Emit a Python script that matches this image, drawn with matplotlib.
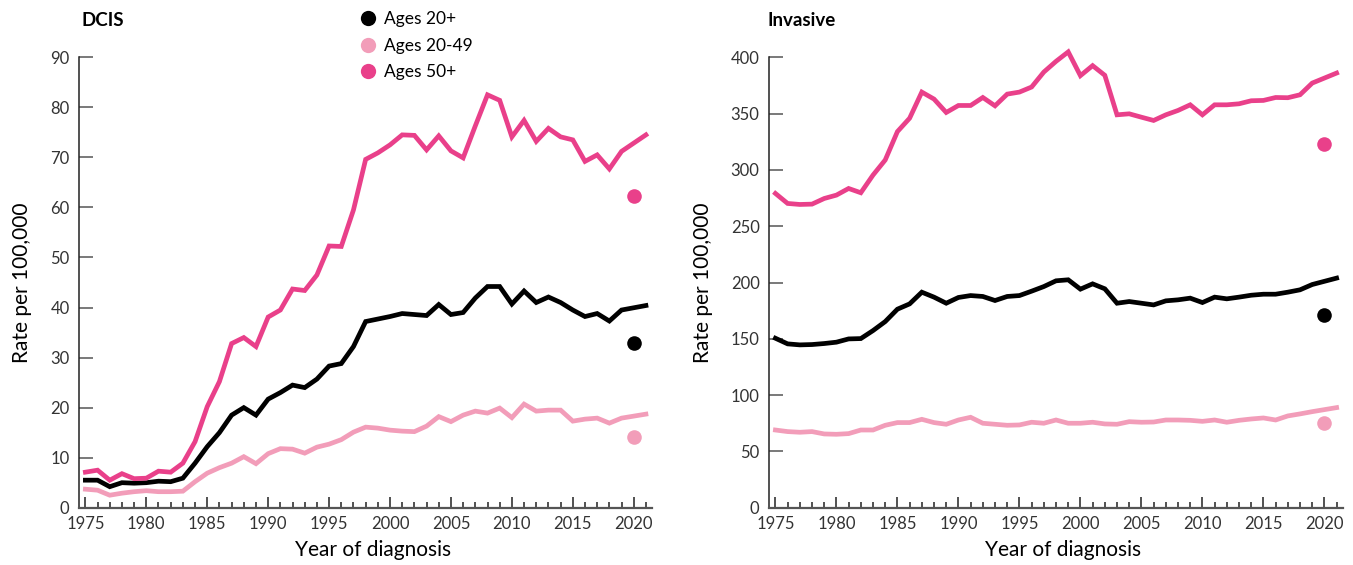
#import libraries
import numpy as np
from matplotlib import pyplot as plt
from matplotlib.lines import Line2D
from matplotlib.ticker import MultipleLocator

plt.rcParams['font.family'] = ['Lato', 'DejaVu Sans']

#data, 1975-2021 (2020 shown as a separate dot)
years = np.arange(1975, 2022)

dcis_20plus = [5.5, 5.5, 4.2, 5.0, 4.9, 5.0, 5.3, 5.2, 5.9, 8.9,
               12.2, 15.0, 18.5, 20.0, 18.5, 21.7, 23.0, 24.5, 24.0, 25.7,
               28.3, 28.8, 32.2, 37.2, 37.7, 38.2, 38.8, 38.6, 38.4, 40.6,
               38.6, 39.0, 41.9, 44.2, 44.2, 40.7, 43.3, 41.0, 42.1, 41.0,
               39.5, 38.2, 38.8, 37.3, 39.5, 32.9, 40.4]
dcis_20_49 = [3.7, 3.5, 2.5, 2.9, 3.2, 3.4, 3.2, 3.2, 3.3, 5.2,
              6.9, 8.0, 8.9, 10.2, 8.8, 10.8, 11.8, 11.7, 10.9, 12.1,
              12.7, 13.6, 15.1, 16.1, 15.9, 15.5, 15.3, 15.2, 16.3, 18.2,
              17.2, 18.5, 19.3, 18.9, 19.9, 18.0, 20.7, 19.3, 19.5, 19.5,
              17.3, 17.7, 17.9, 16.9, 17.9, 14.1, 18.7]
dcis_50plus = [7.1, 7.5, 5.5, 6.8, 5.8, 5.9, 7.3, 7.1, 8.9, 13.2,
               20.2, 25.2, 32.8, 34.0, 32.2, 38.1, 39.5, 43.7, 43.4, 46.5,
               52.3, 52.2, 59.5, 69.6, 70.9, 72.5, 74.5, 74.4, 71.5, 74.3,
               71.3, 69.9, 76.3, 82.5, 81.4, 74.1, 77.4, 73.2, 75.8, 74.1,
               73.5, 69.2, 70.5, 67.7, 71.2, 62.3, 74.5]

inv_20plus = [150.5, 145.5, 144.6, 144.9, 145.8, 147.0, 149.9, 150.2, 157.3, 165.3,
              176.3, 181.0, 191.4, 187.0, 181.6, 186.7, 188.4, 187.6, 184.0, 187.6,
              188.4, 192.3, 196.4, 201.5, 202.4, 194.1, 198.8, 194.4, 181.6, 183.1,
              181.6, 180.1, 183.7, 184.6, 186.1, 182.2, 187.0, 185.5, 187.0, 188.7,
              189.6, 189.6, 191.4, 193.5, 198.2, 171.0, 203.9]
inv_20_49 = [69.0, 67.6, 67.0, 67.6, 65.5, 65.2, 65.8, 69.0, 69.0, 73.2,
             75.6, 75.6, 78.5, 75.6, 74.1, 77.9, 80.3, 75.0, 74.1, 73.2,
             73.5, 75.9, 75.0, 77.9, 75.0, 75.0, 75.9, 74.4, 74.1, 76.4,
             75.9, 76.1, 77.9, 77.9, 77.6, 76.7, 77.9, 75.9, 77.6, 78.8,
             79.7, 77.9, 81.5, 83.3, 85.3, 75.0, 88.9]
inv_50plus = [279.1, 270.2, 269.3, 269.6, 274.6, 277.6, 283.5, 279.7, 295.4, 308.8,
              334.0, 345.9, 369.1, 362.9, 351.0, 357.2, 357.2, 364.3, 356.9, 367.3,
              369.1, 373.6, 386.9, 396.4, 404.8, 383.7, 392.6, 384.0, 348.9, 349.8,
              346.8, 343.9, 348.9, 352.8, 357.8, 348.9, 357.8, 357.8, 358.7, 361.4,
              361.7, 364.3, 364.1, 366.7, 377.1, 323.1, 386.0]

labels = ["Ages 20+", "Ages 20-49", "Ages 50+"]
colors = ["#000000", "#F29DB9", "#E9408A"]

#define the output graph
fig = plt.figure(figsize=(13.53, 5.65), dpi=100)
ax1 = fig.add_axes([0.0586, 0.1014, 0.4233, 0.7972])
ax2 = fig.add_axes([0.5686, 0.1014, 0.4238, 0.7972])

panels = [(ax1, [dcis_20plus, dcis_20_49, dcis_50plus], 90, 10, "DCIS"),
          (ax2, [inv_20plus, inv_20_49, inv_50plus], 400, 50, "Invasive")]

line_mask = years != 2020
for ax, series, ymax, ystep, title in panels:
    for vals, c in zip(series, colors):
        vals = np.array(vals)
        ax.plot(years[line_mask], vals[line_mask], color=c, lw=3.4,
                solid_joinstyle='miter', zorder=3, clip_on=False)
        ax.plot(2020, vals[years == 2020][0], "o", color=c, ms=10.5, mec='none', zorder=3)
    ax.set_xlim(1974.5, 2021.5)
    ax.set_ylim(0, ymax)
    ax.set_yticks(np.arange(0, ymax + 1, ystep))
    ax.set_xticks(np.arange(1975, 2021, 5))
    ax.xaxis.set_minor_locator(MultipleLocator(1))
    ax.spines['top'].set_visible(False)
    ax.spines['right'].set_visible(False)
    ax.spines['left'].set_color('#222222')
    ax.spines['bottom'].set_color('#555555')
    ax.spines['left'].set_linewidth(1.1)
    ax.spines['bottom'].set_linewidth(1.6)
    ax.tick_params(axis='y', direction='in', length=10, width=1.1, color='#555555',
                   labelsize=12, labelcolor='#333333', pad=7)
    ax.tick_params(axis='x', which='major', direction='in', length=8, width=1.1,
                   color='#222222', labelsize=12, labelcolor='#333333', pad=6)
    ax.tick_params(axis='x', which='minor', direction='in', length=4.5, width=1.1,
                   color='#222222')
    ax.set_xlabel("Year of diagnosis", fontsize=15, labelpad=6)
    ax.xaxis.label.set_x(0.513)
    ax.set_ylabel("Rate per 100,000", fontsize=15, labelpad=13)

fig.text(0.0606, 0.964, "DCIS", fontsize=13.5, fontweight='bold', ha='left', va='center')
fig.text(0.567, 0.964, "Invasive", fontsize=13.5, fontweight='bold', ha='left', va='center')

#legend
handles = [Line2D([], [], marker='o', ls='none', color=c, ms=11, mec='none') for c in colors]
fig.legend(handles, labels, loc='upper left', bbox_to_anchor=(0.259, 0.992), frameon=False,
           fontsize=12.5, handletextpad=0.35, labelspacing=0.6, handlelength=1.2,
           borderaxespad=0)

plt.savefig("out.png", dpi=100)
